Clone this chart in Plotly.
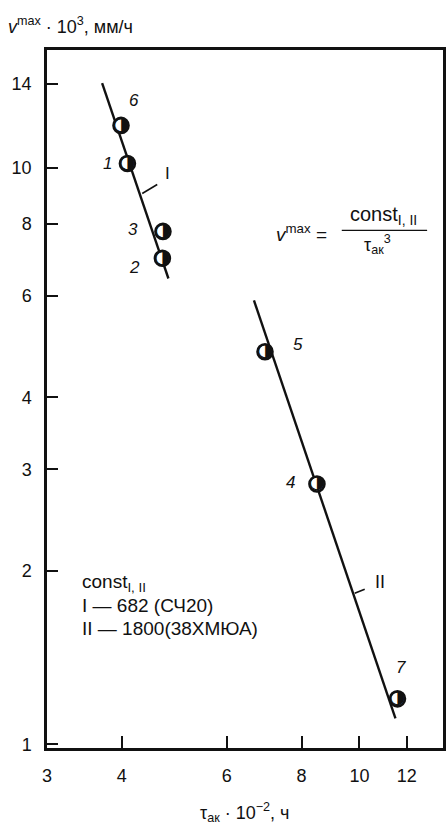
import numpy as np
import plotly.graph_objects as go

# --- data -------------------------------------------------------------
# accumulation time tau_ak (x 10^-2 h) and max velocity v_max (x 10^3 mm/h)
point_ids = ["6", "1", "3", "2", "5", "4", "7"]
tau_ak = [3.99, 4.09, 4.69, 4.68, 6.95, 8.49, 11.58]
v_max = [11.85, 10.18, 7.76, 6.97, 4.80, 2.83, 1.20]

# fitted lines v = const / tau^3 (I: СЧ20, II: 38ХМЮА)
line_I_tau = [3.71, 4.79]
line_I_v = [14.03, 6.43]
line_II_tau = [6.66, 11.49]
line_II_v = [5.89, 1.11]

# points on each line where the name leader starts
leader_tau = [4.33, 9.82]
leader_v = [9.03, 1.83]

x_ticks = [3, 4, 6, 8, 10, 12]
y_ticks = [1, 2, 3, 4, 6, 8, 10, 14]

# --- geometry helpers (page pixels -> paper fractions) ----------------
W, H = 447, 826
L, R, T, B = 47, 1, 49.5, 78
PW, PH = W - L - R, H - T - B


def px(x):
    return (x - L) / PW


def py(y):
    return (H - B - y) / PH


FONT = "Liberation Sans, Arial, sans-serif"
BLACK = "#111111"


def label(x, y, text, size, xanchor="center"):
    fig.add_annotation(x=px(x), y=py(y), xref="paper", yref="paper",
                       xanchor=xanchor, yanchor="middle", showarrow=False,
                       text=text, font=dict(family=FONT, size=size, color=BLACK))


fig = go.Figure()

fig.add_trace(go.Scatter(x=line_I_tau, y=line_I_v, mode="lines",
                         line=dict(color=BLACK, width=2.4), showlegend=False))
fig.add_trace(go.Scatter(x=line_II_tau, y=line_II_v, mode="lines",
                         line=dict(color=BLACK, width=2.4), showlegend=False))

# half-shaded measurement points: thick ring plus a half-disc glyph
fig.add_trace(go.Scatter(
    x=tau_ak, y=v_max, mode="markers",
    marker=dict(symbol="circle", size=15, color="white",
                line=dict(color=BLACK, width=2.6)),
    showlegend=False))
fig.add_trace(go.Scatter(
    x=tau_ak, y=v_max, mode="text", text=["◑"] * len(tau_ak),
    textposition="middle center",
    textfont=dict(family="DejaVu Sans", size=18, color=BLACK),
    showlegend=False))

# point number labels, offset from each marker in pixels
# (annotations on log axes take log10 positions)
label_shift = {"6": (13, 25), "1": (-20, 0), "3": (-30, 2), "2": (-28, -9),
               "5": (33, 7), "4": (-26, 1), "7": (4, 31)}
for pid, xv, yv in zip(point_ids, tau_ak, v_max):
    dx, dy = label_shift[pid]
    fig.add_annotation(x=np.log10(xv), y=np.log10(yv), text=f"<i>{pid}</i>",
                       showarrow=False, xshift=dx, yshift=dy,
                       font=dict(family=FONT, size=17, color=BLACK))

# leader ticks from each line towards its name
for (lx, ly), (dx, dy) in zip(zip(leader_tau, leader_v), [(15, 9), (10, 4)]):
    fig.add_shape(type="line", xref="x", yref="y",
                  xsizemode="pixel", ysizemode="pixel",
                  xanchor=lx, yanchor=ly, x0=0, x1=dx, y0=0, y1=dy,
                  line=dict(color=BLACK, width=1.6))
label(168, 173, "I", 17)
label(383, 582, "II", 18)

# formula v_max = const / tau^3
label(303, 233, "<i>v</i><sup>max</sup> =", 19)
label(386, 215, "const<sub>I, II</sub>", 20)
fig.add_shape(type="line", xref="paper", yref="paper",
              x0=px(344), x1=px(430), y0=py(230), y1=py(230),
              line=dict(color=BLACK, width=1.3))
label(380, 244, "τ<sub>ак</sub><sup>3</sup>", 18)

# constants legend
label(80, 583, "const<sub>I, II</sub>", 19, xanchor="left")
label(80, 605, "I — 682 (СЧ20)", 19, xanchor="left")
label(80, 628, "II — 1800(38ХМЮА)", 19, xanchor="left")

# axis titles
label(6, 25, "<i>v</i><sup>max</sup> · 10<sup>3</sup>, мм/ч", 18, xanchor="left")
label(246, 813, "τ<sub>ак</sub> · 10<sup>−2</sup>, ч", 18)

fig.update_xaxes(type="log", range=[0.47712, 1.1399],
                 tickvals=x_ticks, ticktext=[str(v) for v in x_ticks],
                 ticks="inside", ticklen=12, tickwidth=2, tickcolor=BLACK,
                 showline=True, linecolor=BLACK, linewidth=2.5, mirror=True,
                 showgrid=False, zeroline=False, ticklabelstandoff=10,
                 tickfont=dict(family=FONT, size=18, color=BLACK))
fig.update_yaxes(type="log", range=[-0.0061, 1.2045],
                 tickvals=y_ticks, ticktext=[str(v) for v in y_ticks],
                 ticks="inside", ticklen=11, tickwidth=2, tickcolor=BLACK,
                 showline=True, linecolor=BLACK, linewidth=2.5, mirror=True,
                 showgrid=False, zeroline=False, ticklabelstandoff=9,
                 tickfont=dict(family=FONT, size=18, color=BLACK))

fig.update_layout(width=W, height=H, margin=dict(l=L, r=R, t=T, b=B),
                  paper_bgcolor="white", plot_bgcolor="white")

fig.write_html("out.html")
